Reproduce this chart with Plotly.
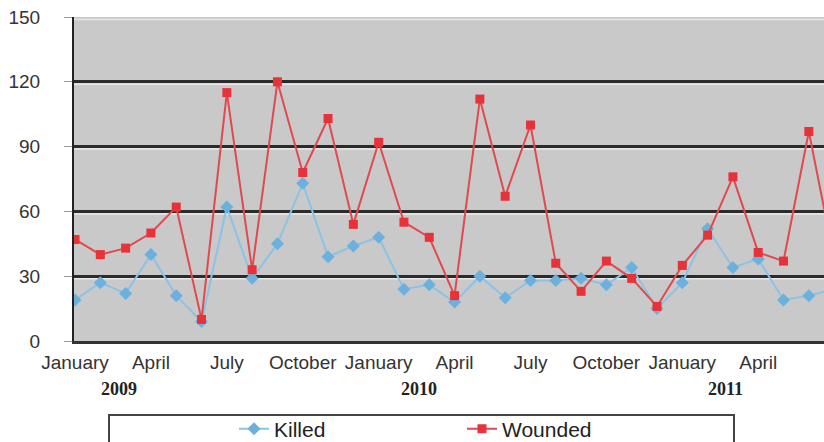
import plotly.graph_objects as go

months_idx = list(range(31))  # Jan 2009 .. Jul 2011
killed = [19, 27, 22, 40, 21, 9, 62, 29, 45, 73, 39, 44, 48, 24,
          26, 18, 30, 20, 28, 28, 29, 26, 34, 15, 27, 52, 34, 38, 19, 21, 24]
wounded = [47, 40, 43, 50, 62, 10, 115, 33, 120, 78, 103, 54, 92, 55,
           48, 21, 112, 67, 100, 36, 23, 37, 29, 16, 35, 49, 76, 41, 37, 97, 38]

tick_vals = [0, 3, 6, 9, 12, 15, 18, 21, 24, 27]
tick_text = ["January", "April", "July", "October", "January", "April",
             "July", "October", "January", "April"]
year_labels = ["2009", "2010", "2011"]
year_pos = [1.73, 13.6, 25.7]
y_ticks = [0, 30, 60, 90, 120, 150]

W, H = 824, 442
L, R, T, B = 74, 0, 17, 101

fig = go.Figure()
fig.add_trace(go.Scatter(
    x=months_idx, y=killed, name="Killed", mode="lines+markers",
    line=dict(color="#8cc2e6", width=2),
    marker=dict(symbol="diamond", size=10, color="#6cb0de"),
))
fig.add_trace(go.Scatter(
    x=months_idx, y=wounded, name="Wounded", mode="lines+markers",
    line=dict(color="#e04a4e", width=2),
    marker=dict(symbol="square", size=9, color="#e8323a"),
))

shapes = []
for v in y_ticks[1:]:
    shapes.append(dict(type="line", xref="paper", x0=0, x1=1,
                       yref="y", ysizemode="pixel", yanchor=v, y0=-2.5, y1=-2.5,
                       line=dict(color="#e8e8e8", width=1.5), layer="below"))
# legend frame
shapes.append(dict(type="rect", xref="paper", yref="paper",
                   x0=(109 - L) / (W - L - R), x1=(734 - L) / (W - L - R),
                   y0=(H - T - B - (460 - T)) / (H - T - B),
                   y1=(H - T - B - (415 - T)) / (H - T - B),
                   line=dict(color="#444444", width=2), fillcolor="white", layer="below"))

annotations = []
for lab, xp in zip(year_labels, year_pos):
    annotations.append(dict(x=xp, xref="x", y=(341 - 389) / (H - T - B), yref="paper",
                            text="<b>" + lab + "</b>", showarrow=False,
                            xanchor="center", yanchor="middle",
                            font=dict(family="Liberation Serif", size=18, color="#222")))

fig.update_layout(
    width=W, height=H,
    margin=dict(l=L, r=R, t=T, b=B, autoexpand=False),
    paper_bgcolor="white", plot_bgcolor="#c9c9c9",
    font=dict(family="Liberation Sans", color="#333"),
    showlegend=True,
    legend=dict(orientation="h", x=(234 - L) / (W - L - R), xanchor="left",
                y=(341 - 429) / (H - T - B), yanchor="middle",
                font=dict(size=21, color="#222"), entrywidth=183,
                bgcolor="rgba(0,0,0,0)"),
    shapes=shapes, annotations=annotations,
)
fig.update_xaxes(range=[-0.04, 29.6], tickvals=tick_vals, ticktext=tick_text,
                 showgrid=False, zeroline=False, showline=True, linecolor="#333",
                 linewidth=3, ticks="", automargin=False, ticklabelstandoff=2,
                 tickfont=dict(size=19, color="#333"))
fig.update_yaxes(range=[0, 150], tickvals=y_ticks, showgrid=True, gridcolor="#2b2b2b",
                 gridwidth=3, zeroline=False, showline=True, linecolor="#222", linewidth=2,
                 ticks="outside", ticklen=8, tickcolor="#999", tickwidth=1, automargin=False,
                 ticklabelstandoff=20, tickfont=dict(size=19, color="#333"))

fig.write_html("out.html", config={"displayModeBar": False},
               post_script="document.body.style.margin='0';")
